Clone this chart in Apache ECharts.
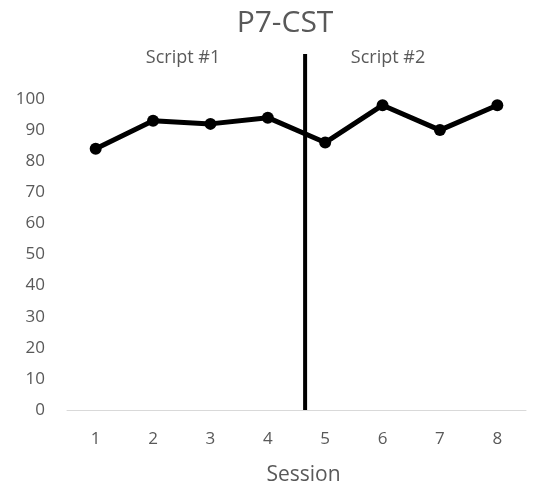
<!DOCTYPE html>
<html>
<head>
<meta charset="utf-8">
<script src="https://cdn.jsdelivr.net/npm/echarts@6/dist/echarts.min.js"></script>
<style>html,body{margin:0;padding:0;background:#fff;}#c{width:535px;height:493px;}</style>
</head>
<body>
<div id="c"></div>
<script>
var categories = ['1','2','3','4','5','6','7','8'];
var scores = [84, 93, 92, 94, 86, 98, 90, 98];
var phaseLine = [[4.65, 0], [4.65, 114.5]];
var phaseLabels = ['Script #1', 'Script #2'];
var titleText = 'P7-CST';
var xName = 'Session';

var chart = echarts.init(document.getElementById('c'));
var gray = '#595959';
chart.setOption({
  animation: false,
  backgroundColor: '#fff',
  title: [
    { text: titleText, left: 280, top: 3, textAlign: 'center',
      textStyle: { fontFamily: 'Open Sans', fontSize: 30, fontWeight: 'normal', color: gray } },
    { text: phaseLabels[0], left: 178, top: 44, textAlign: 'center',
      textStyle: { fontFamily: 'Open Sans', fontSize: 18, fontWeight: 'normal', color: gray } },
    { text: phaseLabels[1], left: 383, top: 44, textAlign: 'center',
      textStyle: { fontFamily: 'Open Sans', fontSize: 18, fontWeight: 'normal', color: gray } }
  ],
  grid: { left: 67, right: 9, top: 99, bottom: 83, containLabel: false },
  xAxis: [
    { type: 'category', data: categories, boundaryGap: true,
      name: xName, nameLocation: 'middle', nameGap: 55,
      nameTextStyle: { fontFamily: 'Open Sans', fontSize: 21, color: gray, padding: [0, 0, 0, 14] },
      axisLine: { show: true, lineStyle: { color: '#d9d9d9', width: 1 } },
      axisTick: { show: false },
      axisLabel: { fontFamily: 'Open Sans', fontSize: 17, color: gray, margin: 21 } },
    { type: 'value', min: 0.5, max: 8.5, show: false }
  ],
  yAxis: {
    type: 'value', min: 0, max: 100, interval: 10,
    axisLine: { show: false }, axisTick: { show: false },
    splitLine: { show: false },
    axisLabel: { fontFamily: 'Open Sans', fontSize: 17, color: gray, margin: 22 }
  },
  series: [
    { type: 'line', xAxisIndex: 0, data: scores,
      symbol: 'circle', symbolSize: 12,
      lineStyle: { color: '#000', width: 5 },
      itemStyle: { color: '#000' } },
    { type: 'line', xAxisIndex: 1, data: phaseLine, clip: false,
      symbol: 'none', lineStyle: { color: '#000', width: 4 } }
  ]
});
</script>
</body>
</html>
